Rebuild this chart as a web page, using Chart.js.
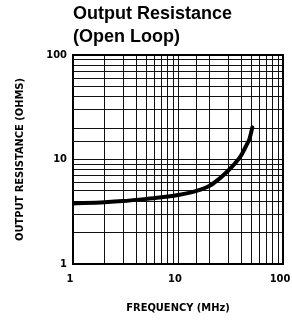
<!DOCTYPE html>
<html>
<head>
<meta charset="utf-8">
<script src="https://cdn.jsdelivr.net/npm/chart.js@4/dist/chart.umd.min.js"></script>
<style>
  html, body { margin: 0; padding: 0; background: #fff; }
  #wrap { width: 292px; height: 320px; }
</style>
</head>
<body>
<div id="wrap"><canvas id="resChart" width="292" height="320"></canvas></div>
<script>
// Valeurs (fréquence en MHz, résistance en ohms)
const freqMHz = [1, 2, 3, 5, 7, 10, 15, 20, 25, 30, 35, 40, 45, 48, 51];
const outputOhms = [3.8, 3.9, 4.0, 4.2, 4.35, 4.57, 5.0, 5.6, 6.6, 7.8, 9.2, 11.0, 13.8, 15.8, 20.3];
const majorTicks = [1, 10, 100];

const narrow = '"DejaVu Sans Condensed", "DejaVu Sans", sans-serif';
const tickFont = { family: narrow, weight: 'bold', size: 11 };
const titleFont = { family: narrow, weight: 'bold', size: 11 };

// Cadre épais autour de la zone du graphique
const framePlugin = {
    id: 'frame',
    afterDatasetsDraw(chart) {
        const { ctx, chartArea: a } = chart;
        ctx.save();
        ctx.strokeStyle = '#000';
        ctx.lineWidth = 2;
        ctx.strokeRect(a.left, a.top, a.right - a.left, a.bottom - a.top);
        ctx.restore();
    }
};

function majorLabel(value) {
    return majorTicks.includes(value) ? String(value) : '';
}

const ctx = document.getElementById('resChart').getContext('2d');
new Chart(ctx, {
    type: 'line',
    data: {
        datasets: [{
            data: freqMHz.map((f, i) => ({ x: f, y: outputOhms[i] })),
            borderColor: '#000',
            borderWidth: 4,
            borderCapStyle: 'round',
            pointRadius: 0,
            cubicInterpolationMode: 'monotone',
            fill: false
        }]
    },
    options: {
        responsive: false,
        animation: false,
        layout: { autoPadding: false, padding: { left: 0, right: 9, top: 0, bottom: 0 } },
        plugins: {
            legend: { display: false },
            tooltip: { enabled: false },
            title: {
                display: true,
                text: ['Output Resistance', '(Open Loop)'],
                align: 'start',
                fullSize: false,
                color: '#000',
                font: { family: '"Liberation Sans", Arial', weight: 'bold', size: 18, lineHeight: 1.25 },
                padding: { top: 3, bottom: 7 }
            }
        },
        scales: {
            x: {
                type: 'logarithmic',
                min: 1,
                max: 100,
                afterFit(scale) {
                    scale.height = 56;
                    scale.paddingLeft = 0;
                    scale.paddingRight = 0;
                },
                grid: { color: '#111', lineWidth: 1, drawTicks: false },
                border: { display: false },
                ticks: {
                    autoSkip: false,
                    maxRotation: 0,
                    padding: 9,
                    labelOffset: -3,
                    color: '#000',
                    font: tickFont,
                    callback: majorLabel
                },
                title: {
                    display: true,
                    text: 'FREQUENCY (MHz)',
                    color: '#000',
                    font: titleFont,
                    padding: { top: 0, bottom: 5 }
                }
            },
            y: {
                type: 'logarithmic',
                min: 1,
                max: 100,
                afterFit(scale) {
                    scale.width = 73;
                    scale.paddingTop = 0;
                    scale.paddingBottom = 0;
                },
                grid: { color: '#111', lineWidth: 1, drawTicks: false },
                border: { display: false },
                ticks: {
                    autoSkip: false,
                    padding: 6,
                    color: '#000',
                    font: tickFont,
                    callback: majorLabel
                },
                title: {
                    display: true,
                    text: 'OUTPUT RESISTANCE (OHMS)',
                    color: '#000',
                    font: titleFont,
                    padding: { top: 14, bottom: 0 }
                }
            }
        }
    },
    plugins: [framePlugin]
});
</script>
</body>
</html>
